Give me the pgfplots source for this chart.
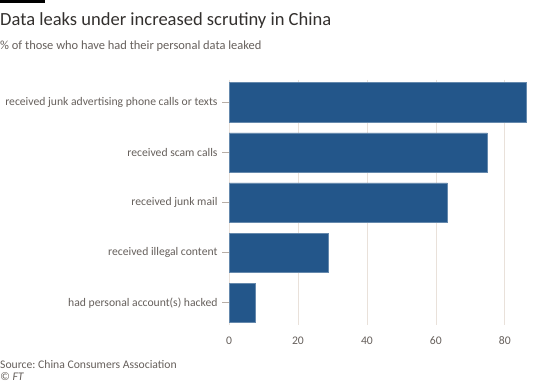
\documentclass[border=0pt]{standalone}
\usepackage{pgfplots}
\pgfplotsset{compat=1.18}
\usepackage{fontspec}
\setmainfont{Carlito}
\frenchspacing
\definecolor{barblue}{HTML}{23568A}
\definecolor{titlecol}{HTML}{33302E}
\definecolor{subcol}{HTML}{66605C}
\definecolor{gridcol}{HTML}{E9E1DA}
\definecolor{tickcol}{HTML}{B8AEA6}
\begin{document}
\begin{tikzpicture}[x=1bp,y=1bp]
\path[use as bounding box,fill=white] (0,0) rectangle (540,385);
\fill[black] (0,385) rectangle (45,381.6);
\node[anchor=base west,inner sep=0,text=titlecol,font=\fontsize{18.6}{20}\selectfont] at (0,360) {Data leaks under increased scrutiny in China};
\node[anchor=base west,inner sep=0,text=subcol,font=\fontsize{12.5}{14}\selectfont] at (0,336) {\% of those who have had their personal data leaked};
\node[anchor=base west,inner sep=0,text=subcol,font=\fontsize{11.7}{13}\selectfont] at (0,16.7) {Source: China Consumers Association};
\node[anchor=base west,inner sep=0,text=subcol,font=\fontsize{11.7}{13}\selectfont\itshape] at (0,4.3) {\textcopyright{} FT};
\begin{axis}[
  at={(229bp,59.7bp)}, anchor=south west,
  scale only axis, width=300bp, height=245.5bp,
  xbar, bar width=39.3bp,
  xmin=0, xmax=87,
  ymin=-0.45, ymax=4.45, y dir=reverse,
  ytick={0,1,2,3,4},
  yticklabels={received junk advertising phone calls or texts,received scam calls,received junk mail,received illegal content,had personal account(s) hacked},
  xtick={0,20,40,60,80},
  axis line style={draw=none},
  xmajorgrids, grid style={gridcol, line width=0.8pt},
  xtick style={draw=none},
  ytick pos=left, tick align=outside,
  major tick length=7bp,
  ytick style={tickcol, line width=0.6pt},
  ticklabel style={text=subcol, font=\fontsize{11.7}{13}\selectfont},
  /pgf/number format/assume math mode=true,
  yticklabel style={xshift=-1bp},
  xticklabel style={yshift=-1bp},
  clip=false,
]
\addplot[fill=barblue, draw=barblue!70!white, line width=0.4pt] coordinates {(86.3,0) (74.9,1) (63.3,2) (28.8,3) (7.6,4)};
\end{axis}
\end{tikzpicture}
\end{document}
